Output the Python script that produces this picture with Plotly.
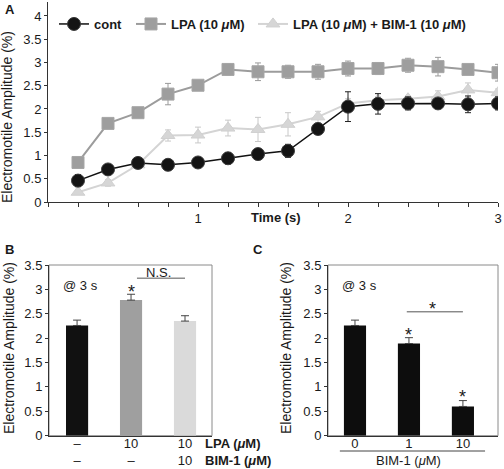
import plotly.graph_objects as go

# ---------------- data ----------------
TIME = [0.2, 0.4, 0.6, 0.8, 1.0, 1.2, 1.4, 1.6, 1.8, 2.0, 2.2, 2.4, 2.6, 2.8, 3.0]
CONT = [0.46, 0.70, 0.84, 0.80, 0.85, 0.94, 1.03, 1.10, 1.57, 2.05, 2.11, 2.12, 2.12, 2.10, 2.12]
CONT_ERR = [0.13, 0.07, 0.06, 0.08, 0.10, 0.12, 0.07, 0.14, 0.10, 0.32, 0.22, 0.14, 0.10, 0.18, 0.14]
LPA = [0.85, 1.69, 1.92, 2.32, 2.51, 2.85, 2.80, 2.80, 2.80, 2.87, 2.87, 2.94, 2.91, 2.85, 2.78]
LPA_ERR = [0.05, 0.06, 0.06, 0.23, 0.07, 0.12, 0.19, 0.14, 0.16, 0.16, 0.13, 0.15, 0.20, 0.08, 0.18]
BIM = [0.21, 0.41, 0.80, 1.43, 1.44, 1.59, 1.56, 1.67, 1.83, 2.12, 2.19, 2.22, 2.27, 2.41, 2.35]
BIM_ERR = [0.05, 0.07, 0.05, 0.12, 0.17, 0.17, 0.26, 0.25, 0.12, 0.10, 0.07, 0.06, 0.12, 0.15, 0.08]
TIME_LABELS = {1.0: "1", 2.0: "2", 3.0: "3"}
Y_TICKS_A = [0, 0.5, 1, 1.5, 2, 2.5, 3, 3.5, 4]

B_CATS = [0, 1, 2]
B_LPA = ["–", "10", "10"]
B_BIM = ["–", "–", "10"]
B_VALUES = [2.26, 2.78, 2.35]
B_ERR = [0.11, 0.12, 0.11]

C_CATS = [0, 1, 2]
C_LABELS = ["0", "1", "10"]
C_VALUES = [2.26, 1.89, 0.60]
C_ERR = [0.11, 0.12, 0.12]
Y_TICKS_BC = [0, 0.5, 1, 1.5, 2, 2.5, 3, 3.5]

W, H = 504, 469
FONT = "Liberation Sans, Arial, Helvetica, sans-serif"
TXT = "#1a1a1a"


def px(x):
    return x / W


def py(y):
    return 1 - y / H


fig = go.Figure()

# ---------------- panel A ----------------
fig.add_trace(go.Scatter(
    x=TIME, y=BIM, name="LPA (10 <i>μ</i>M) + BIM-1 (10 <i>μ</i>M)", mode="lines+markers",
    line=dict(color="#d4d4d4", width=2),
    marker=dict(symbol="triangle-up", size=12, color="#d6d6d6", line=dict(color="#d0d0d0", width=1)),
    error_y=dict(type="data", array=BIM_ERR, color="#c8c8c8", thickness=1, width=3),
    xaxis="x", yaxis="y", legend="legend3"))
fig.add_trace(go.Scatter(
    x=TIME, y=LPA, name="LPA (10 <i>μ</i>M)", mode="lines+markers",
    line=dict(color="#9c9c9c", width=2),
    marker=dict(symbol="square", size=12, color="#9e9e9e", line=dict(color="#a6a6a6", width=1)),
    error_y=dict(type="data", array=LPA_ERR, color="#9a9a9a", thickness=1, width=3),
    xaxis="x", yaxis="y", legend="legend2"))
fig.add_trace(go.Scatter(
    x=TIME, y=CONT, name="cont", mode="lines+markers",
    line=dict(color="#111111", width=1.5),
    marker=dict(symbol="circle", size=13, color="#141414", line=dict(color="#3a3a3a", width=1)),
    error_y=dict(type="data", array=CONT_ERR, color="#222222", thickness=1, width=3),
    xaxis="x", yaxis="y", legend="legend"))

# ---------------- panel B ----------------
fig.add_trace(go.Bar(
    x=B_CATS, y=B_VALUES, width=0.41,
    marker=dict(color=["#111111", "#9f9f9f", "#dadada"], line=dict(width=0)),
    error_y=dict(type="data", array=B_ERR, arrayminus=[0, 0, 0], symmetric=False,
                 color="#444444", thickness=1, width=4),
    showlegend=False, xaxis="x2", yaxis="y2"))

# ---------------- panel C ----------------
fig.add_trace(go.Bar(
    x=C_CATS, y=C_VALUES, width=0.41,
    marker=dict(color="#0d0d0d", line=dict(width=0)),
    error_y=dict(type="data", array=C_ERR, arrayminus=[0, 0, 0], symmetric=False,
                 color="#444444", thickness=1, width=4),
    showlegend=False, xaxis="x3", yaxis="y3"))

tick_font = dict(family=FONT, size=13, color=TXT)
axis_common = dict(showgrid=False, zeroline=False, showline=True, linecolor="#333333",
                   linewidth=1, tickfont=tick_font, tickcolor="#333333", automargin=False)

legend_font = dict(family=FONT, size=13, color=TXT, weight="bold")


def legend_at(xpix):
    return dict(orientation="h", x=px(xpix), y=py(24), xanchor="left", yanchor="middle",
                font=legend_font, bgcolor="rgba(0,0,0,0)", itemwidth=30)


fig.update_layout(
    width=W, height=H,
    margin=dict(l=0, r=0, t=0, b=0),
    paper_bgcolor="white", plot_bgcolor="white",
    font=dict(family=FONT, color=TXT),
    showlegend=True,
    legend=legend_at(54),
    legend2=legend_at(131),
    legend3=legend_at(253),
    xaxis=dict(domain=[px(48), px(498)], range=[0, 3], anchor="y",
               tickmode="array", tickvals=[0] + TIME,
               ticktext=[""] + [TIME_LABELS.get(t, "") for t in TIME],
               ticks="outside", ticklen=4, **axis_common),
    yaxis=dict(domain=[py(202), py(2)], range=[0, 4.3], anchor="x",
               tickmode="array", tickvals=Y_TICKS_A, ticks="outside", ticklen=3, **axis_common),
    xaxis2=dict(domain=[px(49), px(212)], range=[-0.52, 2.5], anchor="y2",
                tickmode="array", tickvals=B_CATS,
                ticktext=[f"{a}<br>{b}" for a, b in zip(B_LPA, B_BIM)],
                ticks="", ticklabelstandoff=-4, **axis_common),
    yaxis2=dict(domain=[py(435.7), py(265)], range=[0, 3.5], anchor="x2",
                tickmode="array", tickvals=Y_TICKS_BC, ticks="outside", ticklen=3, **axis_common),
    xaxis3=dict(domain=[px(328), px(498)], range=[-0.5, 2.65], anchor="y3",
                tickmode="array", tickvals=C_CATS, ticktext=C_LABELS,
                ticks="", ticklabelstandoff=-4, **axis_common),
    yaxis3=dict(domain=[py(435.7), py(265)], range=[0, 3.5], anchor="x3",
                tickmode="array", tickvals=Y_TICKS_BC, ticks="outside", ticklen=3, **axis_common),
)

# box frames (grey top/right) for B and C
for xr, yr in (("x2 domain", "y2 domain"), ("x3 domain", "y3 domain")):
    fig.add_shape(type="rect", xref=xr, yref=yr, x0=0, x1=1, y0=0, y1=1,
                  line=dict(color="#8a8a8a", width=1), layer="below")

# significance lines
fig.add_shape(type="line", xref="x2", yref="y2", x0=1.11, x1=2.0, y0=3.23, y1=3.23,
              line=dict(color="#555555", width=1))
fig.add_shape(type="line", xref="x3", yref="y3", x0=0.96, x1=2.0, y0=2.54, y1=2.54,
              line=dict(color="#555555", width=1))
# underline of BIM-1 group in C
fig.add_shape(type="line", xref="x3", yref="paper", x0=-0.28, x1=2.41, y0=py(451), y1=py(451),
              line=dict(color="#444444", width=1))

ann = []
# panel letters
for letter, xx, yy in (("A", 3, 0), ("B", 3, 240), ("C", 251, 240)):
    ann.append(dict(text=letter, x=px(xx), y=py(yy), xref="paper", yref="paper",
                    xanchor="left", yanchor="top", showarrow=False,
                    font=dict(family=FONT, size=13, color=TXT, weight="bold")))
# y titles
for xx, yy in ((7, 117), (9, 348), (286, 348)):
    ann.append(dict(text="Electromotile Amplitude (%)", x=px(xx), y=py(yy), xref="paper", yref="paper",
                    textangle=-90, showarrow=False, xanchor="center", yanchor="middle",
                    font=dict(family=FONT, size=14, color=TXT)))
# Time (s)
ann.append(dict(text="Time (s)", x=1.52, y=py(217), xref="x", yref="paper", showarrow=False,
                xanchor="center", yanchor="middle",
                font=dict(family=FONT, size=13, color=TXT, weight="bold")))
# B row labels
ann.append(dict(text="LPA (<i>μ</i>M)", x=px(203), y=py(443), xref="paper", yref="paper",
                xanchor="left", yanchor="middle", showarrow=False,
                font=dict(family=FONT, size=13, color=TXT, weight="bold")))
ann.append(dict(text="BIM-1 (<i>μ</i>M)", x=px(203), y=py(460), xref="paper", yref="paper",
                xanchor="left", yanchor="middle", showarrow=False,
                font=dict(family=FONT, size=13, color=TXT, weight="bold")))
# C axis label
ann.append(dict(text="BIM-1 (<i>μ</i>M)", x=1.0, y=py(460), xref="x3", yref="paper",
                xanchor="center", yanchor="middle", showarrow=False,
                font=dict(family=FONT, size=13, color=TXT)))
# @ 3 s
ann.append(dict(text="@ 3 s", x=0.055, y=3.09, xref="x2", yref="y2", showarrow=False,
                xanchor="center", yanchor="middle", font=dict(family=FONT, size=13, color=TXT)))
ann.append(dict(text="@ 3 s", x=0.083, y=3.09, xref="x3", yref="y3", showarrow=False,
                xanchor="center", yanchor="middle", font=dict(family=FONT, size=13, color=TXT)))
# stars / N.S.
star_font = dict(family=FONT, size=18, color=TXT)
for text, xx, yy, xr, yr, fnt in (
        ("*", 1, 2.94, "x2", "y2", star_font),
        ("N.S.", 1.5, 3.34, "x2", "y2", dict(family=FONT, size=13, color=TXT)),
        ("*", 1, 2.06, "x3", "y3", star_font),
        ("*", 2, 0.80, "x3", "y3", star_font),
        ("*", 1.44, 2.60, "x3", "y3", star_font)):
    ann.append(dict(text=text, x=xx, y=yy, xref=xr, yref=yr, showarrow=False,
                    xanchor="center", yanchor="middle", font=fnt))
fig.update_layout(annotations=ann)

fig.write_html("out.html", config={"displayModeBar": False},
               post_script="document.body.style.margin='0';document.body.style.overflow='hidden';")
